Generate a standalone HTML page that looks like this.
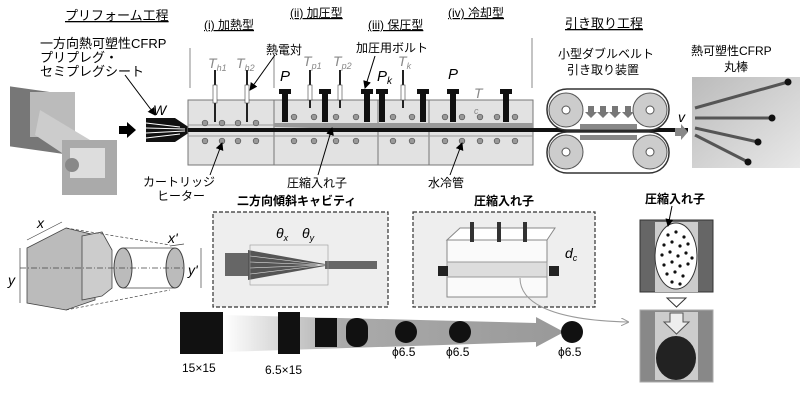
<!DOCTYPE html>
<html><head><meta charset="utf-8"><style>
html,body{margin:0;padding:0;background:#fff;}
svg{display:block;font-family:"Liberation Sans","Noto Sans CJK JP",sans-serif;}
</style></head><body>
<svg width="800" height="409" viewBox="0 0 800 409" xmlns="http://www.w3.org/2000/svg">
<defs>
<linearGradient id="gb" x1="0" x2="1"><stop offset="0" stop-color="#fff"/><stop offset="0.35" stop-color="#aaa"/><stop offset="1" stop-color="#999"/></linearGradient>
<linearGradient id="ph" x1="0" y1="0" x2="1" y2="1"><stop offset="0" stop-color="#bbb"/><stop offset="1" stop-color="#e8e8e8"/></linearGradient>
<marker id="ah" markerWidth="8" markerHeight="8" refX="7" refY="4" orient="auto"><path d="M0,0 L8,4 L0,8 z" fill="#000"/></marker>
<marker id="ag" markerWidth="8" markerHeight="8" refX="7" refY="4" orient="auto"><path d="M0,0 L8,4 L0,8" fill="none" stroke="#999"/></marker>
</defs>
<g font-size="13" fill="#000">
<text x="65" y="20" text-decoration="underline">プリフォーム工程</text>
<text x="204" y="29" font-size="12" text-decoration="underline">(i) 加熱型</text>
<text x="290" y="17" font-size="12" text-decoration="underline">(ii) 加圧型</text>
<text x="368" y="29" font-size="12" text-decoration="underline">(iii) 保圧型</text>
<text x="448" y="17" font-size="12" text-decoration="underline">(iv) 冷却型</text>
<text x="565" y="28" text-decoration="underline">引き取り工程</text>
<text x="40" y="48">一方向熱可塑性CFRP</text>
<text x="40" y="62">プリプレグ・</text>
<text x="40" y="76">セミプレグシート</text>
<text x="266" y="54" font-size="12">熱電対</text>
<text x="356" y="52" font-size="12">加圧用ボルト</text>
<text x="558" y="58" font-size="12">小型ダブルベルト</text>
<text x="567" y="74" font-size="12">引き取り装置</text>
<text x="691" y="55" font-size="12">熱可塑性CFRP</text>
<text x="724" y="71" font-size="12">丸棒</text>
<text x="143" y="186" font-size="12">カートリッジ</text>
<text x="157" y="200" font-size="12">ヒーター</text>
<text x="287" y="187" font-size="12">圧縮入れ子</text>
<text x="428" y="187" font-size="12">水冷管</text>
<text x="237" y="205" font-size="12" font-weight="bold">二方向傾斜キャビティ</text>
<text x="474" y="205" font-size="12" font-weight="bold">圧縮入れ子</text>
<text x="645" y="203" font-size="12" font-weight="bold">圧縮入れ子</text>
</g>
<!-- left photos -->
<rect x="10" y="85" width="60" height="60" fill="#777" transform="skewY(8)"/>
<rect x="30" y="92" width="45" height="45" fill="#bbb"/>
<path d="M40,110 L90,140 L80,165 L35,135z" fill="#ccc"/>
<rect x="62" y="140" width="55" height="55" fill="#aaa"/>
<rect x="70" y="148" width="35" height="30" fill="#ddd"/>
<circle cx="72" cy="165" r="7" fill="#888"/>
<!-- black arrow -->
<path d="M119,126 L127,126 L127,122 L136,130 L127,138 L127,134 L119,134z" fill="#000"/>
<!-- W stack -->
<path d="M146,118 L175,118 L190,128 L190,132 L175,142 L146,142z" fill="#111"/>
<g stroke="#fff" stroke-width="1"><line x1="146" y1="123" x2="180" y2="127"/><line x1="146" y1="128" x2="185" y2="129"/><line x1="146" y1="133" x2="185" y2="131"/><line x1="146" y1="138" x2="180" y2="134"/></g>
<text x="153" y="115" font-size="14" font-style="italic">W</text>
<line x1="125" y1="75" x2="155" y2="115" stroke="#000" marker-end="url(#ah)"/>
<!-- molds -->
<rect x="188" y="100" width="345" height="65" fill="#e2e2e2" stroke="#777"/>
<g stroke="#777"><line x1="274" y1="100" x2="274" y2="165"/><line x1="378" y1="100" x2="378" y2="165"/><line x1="429" y1="100" x2="429" y2="165"/><line x1="188" y1="125" x2="533" y2="125" stroke="#999"/><line x1="188" y1="136" x2="533" y2="136" stroke="#999"/></g>
<path d="M274,123 L533,123 L533,128 L310,128 L274,127z" fill="#999"/>
<rect x="188" y="128" width="500" height="4" fill="#111"/>
<g stroke="#888" stroke-width="1"><line x1="190" y1="48" x2="190" y2="88"/><line x1="274" y1="48" x2="274" y2="88"/><line x1="532" y1="38" x2="532" y2="88"/></g>
<g fill="#999" stroke="#555" stroke-width="0.7">
<circle cx="205" cy="123" r="2.8"/><circle cx="222" cy="123" r="2.8"/><circle cx="238" cy="123" r="2.8"/><circle cx="256" cy="123" r="2.8"/>
<circle cx="205" cy="141" r="2.8"/><circle cx="222" cy="141" r="2.8"/><circle cx="238" cy="141" r="2.8"/><circle cx="256" cy="141" r="2.8"/>
<circle cx="294" cy="117" r="2.8"/><circle cx="314" cy="117" r="2.8"/><circle cx="336" cy="117" r="2.8"/><circle cx="356" cy="117" r="2.8"/><circle cx="393" cy="117" r="2.8"/><circle cx="412" cy="117" r="2.8"/>
<circle cx="294" cy="141" r="2.8"/><circle cx="314" cy="141" r="2.8"/><circle cx="336" cy="141" r="2.8"/><circle cx="356" cy="141" r="2.8"/><circle cx="393" cy="141" r="2.8"/><circle cx="412" cy="141" r="2.8"/>
<circle cx="445" cy="117" r="2.8"/><circle cx="462" cy="117" r="2.8"/><circle cx="480" cy="117" r="2.8"/><circle cx="497" cy="117" r="2.8"/><circle cx="515" cy="117" r="2.8"/>
<circle cx="445" cy="141" r="2.8"/><circle cx="462" cy="141" r="2.8"/><circle cx="480" cy="141" r="2.8"/><circle cx="497" cy="141" r="2.8"/><circle cx="515" cy="141" r="2.8"/>
</g>
<!-- bolts -->
<g fill="#111">
<path d="M279,89 h12 v5 h-3 v28 h-6 v-28 h-3z"/>
<path d="M319,89 h12 v5 h-3 v28 h-6 v-28 h-3z"/>
<path d="M361,89 h12 v5 h-3 v28 h-6 v-28 h-3z"/>
<path d="M376,89 h12 v5 h-3 v28 h-6 v-28 h-3z"/>
<path d="M417,89 h12 v5 h-3 v28 h-6 v-28 h-3z"/>
<path d="M447,89 h12 v5 h-3 v28 h-6 v-28 h-3z"/>
<path d="M500,89 h12 v5 h-3 v28 h-6 v-28 h-3z"/>
</g>
<!-- thermocouples -->
<g stroke="#222" stroke-width="2"><line x1="215" y1="70" x2="215" y2="122"/><line x1="247" y1="70" x2="247" y2="122"/><line x1="310" y1="70" x2="310" y2="108"/><line x1="340" y1="70" x2="340" y2="108"/><line x1="403" y1="70" x2="403" y2="108"/></g>
<g fill="#fff" stroke="#444" stroke-width="0.6"><rect x="213" y="85" width="4" height="18"/><rect x="245" y="85" width="4" height="18"/><rect x="308" y="85" width="4" height="15"/><rect x="338" y="85" width="4" height="15"/><rect x="401" y="85" width="4" height="15"/></g>
<g font-size="14" font-style="italic" fill="#888">
<text x="208" y="68">T<tspan font-size="9" dy="3">h1</tspan></text>
<text x="236" y="68">T<tspan font-size="9" dy="3">h2</tspan></text>
<text x="303" y="66">T<tspan font-size="9" dy="3">p1</tspan></text>
<text x="333" y="66">T<tspan font-size="9" dy="3">p2</tspan></text>
<text x="398" y="66">T<tspan font-size="9" dy="3">k</tspan></text>
<text x="474" y="98">T</text><text x="474" y="114" font-size="9">c</text>
</g>
<g font-size="15" font-style="italic"><text x="280" y="81">P</text><text x="377" y="81">P<tspan font-size="10" dy="3">k</tspan></text><text x="448" y="79">P</text><text x="598" y="103">P</text><text x="678" y="122" font-size="14">v</text></g>
<line x1="275" y1="55" x2="250" y2="90" stroke="#000" marker-end="url(#ah)"/>
<line x1="375" y1="56" x2="365" y2="88" stroke="#000" marker-end="url(#ah)"/>
<line x1="210" y1="175" x2="222" y2="143" stroke="#000" marker-end="url(#ah)"/>
<line x1="318" y1="175" x2="332" y2="128" stroke="#000" marker-end="url(#ah)"/>
<line x1="450" y1="175" x2="462" y2="143" stroke="#000" marker-end="url(#ah)"/>
<!-- belts -->
<rect x="547" y="89" width="122" height="41" rx="20" fill="#fff" stroke="#333" stroke-width="1.5"/>
<rect x="547" y="132" width="122" height="41" rx="20" fill="#fff" stroke="#333" stroke-width="1.5"/>
<g fill="#ccc" stroke="#555"><circle cx="566" cy="110" r="17"/><circle cx="650" cy="110" r="17"/><circle cx="566" cy="152" r="17"/><circle cx="650" cy="152" r="17"/></g>
<g fill="#fff" stroke="#555"><circle cx="566" cy="110" r="4"/><circle cx="650" cy="110" r="4"/><circle cx="566" cy="152" r="4"/><circle cx="650" cy="152" r="4"/></g>
<g fill="#888"><rect x="580" y="124" width="57" height="5"/><rect x="580" y="135" width="57" height="5"/></g>
<g fill="#777"><path d="M588,106 h6 v6 h3 l-6,6 l-6,-6 h3z"/><path d="M600,106 h6 v6 h3 l-6,6 l-6,-6 h3z"/><path d="M612,106 h6 v6 h3 l-6,6 l-6,-6 h3z"/><path d="M625,106 h6 v6 h3 l-6,6 l-6,-6 h3z"/></g>
<path d="M675,128 h6 v-4 l7,8 l-7,8 v-4 h-6z" fill="#888"/>
<!-- photo right -->
<rect x="692" y="77" width="108" height="91" fill="url(#ph)"/>
<g stroke="#555" stroke-width="3"><line x1="695" y1="108" x2="788" y2="82"/><line x1="695" y1="118" x2="772" y2="118"/><line x1="695" y1="128" x2="758" y2="142"/><line x1="695" y1="135" x2="748" y2="162"/></g>
<g fill="#111"><circle cx="788" cy="82" r="3.5"/><circle cx="772" cy="118" r="3.5"/><circle cx="758" cy="142" r="3.5"/><circle cx="748" cy="162" r="3.5"/></g>
<!-- left geometry -->
<path d="M27,248 L66,228 L95,235 L95,300 L66,310 L27,303z" fill="#bbb" stroke="#444" stroke-width="0.8"/>
<path d="M82,236 L102,232 L112,250 L112,288 L102,296 L82,300z" fill="#ccc" stroke="#444" stroke-width="0.8"/>
<ellipse cx="123" cy="268" rx="9" ry="20" fill="#bbb" stroke="#444"/>
<ellipse cx="175" cy="268" rx="9" ry="20" fill="#bbb" stroke="#444"/>
<g stroke="#444" stroke-width="0.7" fill="none"><line x1="123" y1="248" x2="175" y2="248"/><line x1="123" y1="288" x2="175" y2="288"/><line x1="20" y1="268" x2="185" y2="268" stroke-dasharray="6,2,1,2"/><line x1="66" y1="310" x2="170" y2="290" stroke-dasharray="3,2"/><line x1="66" y1="228" x2="170" y2="245" stroke-dasharray="3,2"/><line x1="20" y1="248" x2="20" y2="303"/><line x1="27" y1="240" x2="62" y2="222"/><line x1="170" y1="246" x2="184" y2="244"/><line x1="201" y1="248" x2="201" y2="288"/></g>
<g font-size="14" font-style="italic"><text x="37" y="228">x</text><text x="8" y="285">y</text><text x="168" y="243">x'</text><text x="188" y="275">y'</text></g>
<!-- dashed boxes -->
<rect x="213" y="212" width="175" height="95" fill="#eee" stroke="#333" stroke-dasharray="4,2" stroke-width="1.2"/>
<rect x="413" y="212" width="182" height="95" fill="#eee" stroke="#333" stroke-dasharray="4,2" stroke-width="1.2"/>
<rect x="225" y="253" width="25" height="23" fill="#666"/>
<path d="M248,250 L325,264 L325,266 L248,280z" fill="#555"/>
<g stroke="#ddd" stroke-width="0.6"><line x1="250" y1="256" x2="325" y2="265"/><line x1="250" y1="262" x2="325" y2="265"/><line x1="250" y1="268" x2="325" y2="265"/><line x1="250" y1="274" x2="325" y2="265"/></g>
<rect x="325" y="261" width="52" height="8" fill="#666"/>
<rect x="250" y="245" width="78" height="40" fill="none" stroke="#999" stroke-width="0.6"/>
<g font-size="14" font-style="italic"><text x="276" y="238">θ<tspan font-size="9" dy="3">x</tspan></text><text x="302" y="238">θ<tspan font-size="9" dy="3">y</tspan></text><text x="565" y="258">d<tspan font-size="9" dy="3">c</tspan></text></g>
<rect x="447" y="240" width="100" height="57" fill="#fafafa" stroke="#888"/>
<path d="M447,240 L460,228 L555,228 L547,240z" fill="#fff" stroke="#888"/>
<rect x="447" y="262" width="100" height="15" fill="#ddd" stroke="#999"/>
<rect x="438" y="266" width="10" height="10" fill="#222"/><rect x="549" y="266" width="10" height="10" fill="#222"/>
<g fill="#333"><rect x="470" y="222" width="4" height="20"/><rect x="497" y="222" width="4" height="20"/><rect x="523" y="222" width="4" height="20"/></g>
<path d="M520,278 C520,300 545,320 628,322" fill="none" stroke="#999" marker-end="url(#ag)"/>
<!-- right boxes -->
<rect x="640" y="220" width="73" height="72" fill="#666" stroke="#333"/>
<rect x="655" y="222" width="43" height="70" fill="#ccc"/>
<ellipse cx="676" cy="256" rx="21" ry="33" fill="#fff" stroke="#333"/>
<g fill="#111">
<circle cx="668" cy="235" r="1.6"/><circle cx="676" cy="232" r="1.6"/><circle cx="684" cy="237" r="1.6"/><circle cx="664" cy="245" r="1.6"/><circle cx="672" cy="242" r="1.6"/><circle cx="680" cy="246" r="1.6"/><circle cx="688" cy="244" r="1.6"/><circle cx="662" cy="255" r="1.6"/><circle cx="670" cy="252" r="1.6"/><circle cx="678" cy="256" r="1.6"/><circle cx="686" cy="253" r="1.6"/><circle cx="692" cy="258" r="1.6"/><circle cx="664" cy="265" r="1.6"/><circle cx="672" cy="262" r="1.6"/><circle cx="680" cy="266" r="1.6"/><circle cx="688" cy="264" r="1.6"/><circle cx="667" cy="274" r="1.6"/><circle cx="675" cy="272" r="1.6"/><circle cx="683" cy="276" r="1.6"/><circle cx="672" cy="282" r="1.6"/><circle cx="680" cy="284" r="1.6"/>
</g>
<line x1="672" y1="206" x2="668" y2="226" stroke="#000" marker-end="url(#ah)"/>
<path d="M667,298 L686,298 L676.5,307z" fill="#fff" stroke="#333"/>
<rect x="640" y="310" width="73" height="72" fill="#888" stroke="#aaa"/>
<rect x="655" y="312" width="43" height="68" fill="#ccc"/>
<path d="M670,313 h13 v9 h6 l-12.5,12 l-12.5,-12 h6z" fill="#eee" stroke="#555"/>
<ellipse cx="676" cy="358" rx="20" ry="22" fill="#222"/>
<!-- shape progression -->
<path d="M223,315 L536,323 L536,317 L564,332 L536,347 L536,342 L223,352z" fill="url(#gb)"/>
<rect x="180" y="312" width="43" height="42" fill="#111"/>
<rect x="278" y="312" width="22" height="42" fill="#111"/>
<rect x="315" y="318" width="22" height="29" fill="#111"/>
<rect x="346" y="318" width="22" height="29" rx="10" fill="#111"/>
<circle cx="406" cy="332" r="11" fill="#111"/>
<circle cx="460" cy="332" r="11" fill="#111"/>
<circle cx="572" cy="332" r="11" fill="#111"/>
<g font-size="12"><text x="182" y="372">15×15</text><text x="265" y="374">6.5×15</text><text x="392" y="356">ϕ6.5</text><text x="446" y="356">ϕ6.5</text><text x="558" y="356">ϕ6.5</text></g>
</svg>
</body></html>
